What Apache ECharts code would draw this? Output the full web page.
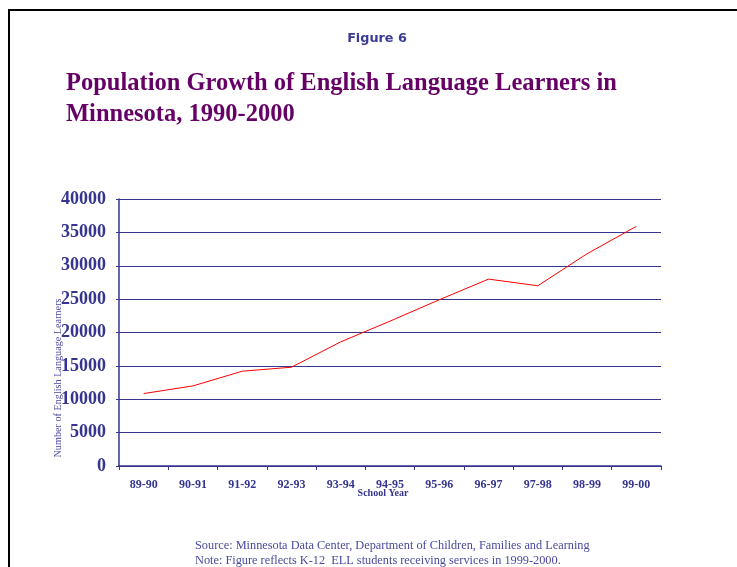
<!DOCTYPE html>
<html>
<head>
<meta charset="utf-8">
<script src="https://cdn.jsdelivr.net/npm/echarts@6/dist/echarts.min.js"></script>
<style>
  html, body { margin: 0; padding: 0; background: #ffffff; }
  #chart { width: 737px; height: 567px; }
</style>
</head>
<body>
<div id="chart"></div>
<script>
// School years on the category axis
const schoolYears = ['89-90', '90-91', '91-92', '92-93', '93-94', '94-95', '95-96', '96-97', '97-98', '98-99', '99-00'];
// Number of English Language Learners enrolled each year
const learners = [10850, 12000, 14200, 14800, 18600, 21700, 24900, 28000, 27000, 31800, 35900];
// Value axis ticks
const yTicks = [0, 5000, 10000, 15000, 20000, 25000, 30000, 35000, 40000];

const navy = '#35358f';
const serif = '"Liberation Serif", "Times New Roman", serif';

const chart = echarts.init(document.getElementById('chart'), null, { renderer: 'canvas' });

chart.setOption({
  backgroundColor: '#ffffff',
  animation: false,
  title: [
    {
      text: 'Figure 6',
      left: 377, top: 32, padding: 0, textAlign: 'center',
      textStyle: { fontFamily: '"DejaVu Sans", Verdana, sans-serif', fontSize: 12.8, fontWeight: 'bold', color: '#3a3a94' }
    },
    {
      text: 'Population Growth of English Language Learners in\nMinnesota, 1990-2000',
      left: 66, top: 68, padding: 0,
      textStyle: { fontFamily: serif, fontSize: 24.5, fontWeight: 'bold', color: '#660066', lineHeight: 31 }
    },
    {
      text: 'Source: Minnesota Data Center, Department of Children, Families and Learning\nNote: Figure reflects K-12  ELL students receiving services in 1999-2000.',
      left: 195, top: 538, padding: 0,
      textStyle: { fontFamily: serif, fontSize: 12.3, fontWeight: 'normal', color: '#4a4aa0', lineHeight: 15 }
    }
  ],
  graphic: [
    {
      type: 'polyline',
      shape: { points: [[9, 567], [9, 10], [737, 10]] },
      style: { stroke: '#000000', lineWidth: 2, fill: null }
    },
    {
      type: 'text',
      x: 58, y: 378, rotation: Math.PI / 2,
      style: {
        text: 'Number of English Language Learners',
        fontFamily: serif, fontSize: 10.2, fill: '#4a4aa0',
        align: 'center', verticalAlign: 'middle'
      }
    },
    {
      type: 'text',
      x: 383, y: 493,
      style: {
        text: 'School Year',
        fontFamily: serif, fontSize: 10, fontWeight: 'bold', fill: navy,
        align: 'center', verticalAlign: 'middle'
      }
    }
  ],
  grid: { left: 119, top: 199, right: 76, bottom: 101, containLabel: false },
  xAxis: {
    type: 'category',
    data: schoolYears,
    boundaryGap: true,
    axisLine: { lineStyle: { color: navy, width: 1.5 } },
    axisTick: { show: true, length: 4, lineStyle: { color: navy }, alignWithLabel: false },
    axisLabel: {
      interval: 0, margin: 13,
      fontFamily: serif, fontSize: 12, fontWeight: 'bold', color: navy
    },
    splitLine: { show: false }
  },
  yAxis: {
    type: 'value',
    min: yTicks[0], max: yTicks[yTicks.length - 1], interval: yTicks[1] - yTicks[0],
    axisLine: { show: true, lineStyle: { color: navy, width: 1.5 } },
    axisTick: { show: true, length: 3, lineStyle: { color: navy } },
    axisLabel: {
      margin: 13,
      formatter: (v) => String(v),
      fontFamily: serif, fontSize: 18, fontWeight: 'bold', color: navy
    },
    splitLine: { show: true, lineStyle: { color: navy, width: 1 } }
  },
  series: [
    {
      type: 'line',
      data: learners,
      symbol: 'none',
      lineStyle: { color: '#ff0000', width: 1 },
      silent: true
    }
  ]
});
</script>
</body>
</html>
